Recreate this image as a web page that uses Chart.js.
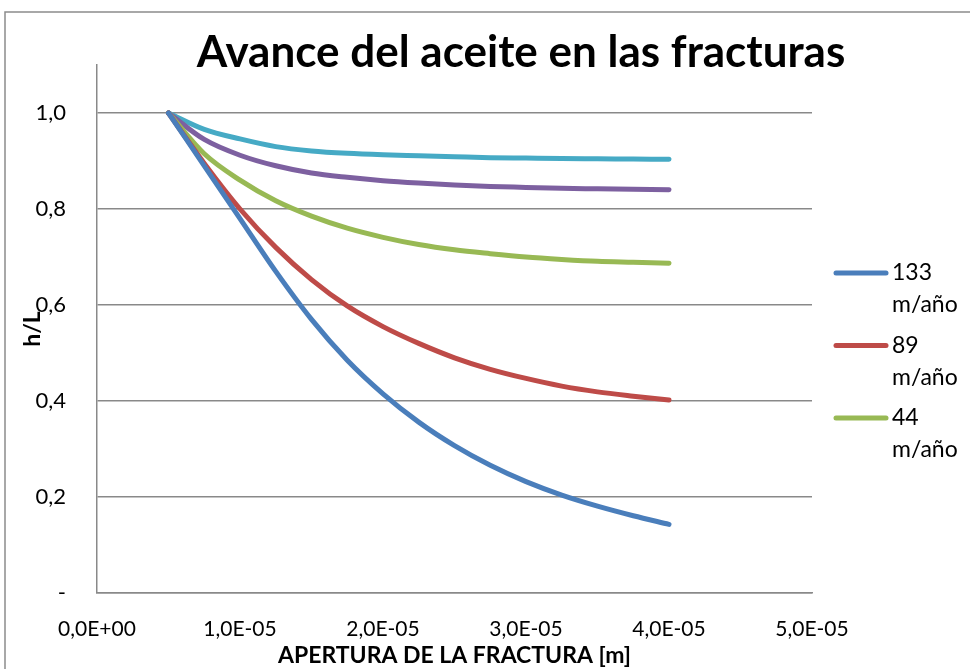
<!DOCTYPE html>
<html>
<head>
<meta charset="utf-8">
<script src="https://cdn.jsdelivr.net/npm/chart.js@4"></script>
<style>
  html, body { margin: 0; padding: 0; background: #fff; overflow: hidden; }
  #wrap { position: absolute; left: 0; top: 0; width: 1042px; height: 669px; }
</style>
</head>
<body>
<div id="wrap"><canvas id="chart" width="1042" height="669"></canvas></div>
<script>
// apertura de la fractura [m]
const apertura = [0.5e-5, 0.75e-5, 1.0e-5, 1.25e-5, 1.5e-5, 1.75e-5, 2.0e-5, 2.25e-5,
                  2.5e-5, 2.75e-5, 3.0e-5, 3.25e-5, 3.5e-5, 3.75e-5, 4.0e-5];

// h/L por velocidad
const serie133 = [1.0, 0.89, 0.78, 0.67, 0.57, 0.485, 0.415, 0.356, 0.307, 0.266, 0.232, 0.204, 0.181, 0.161, 0.143];
const serie89  = [1.0, 0.895, 0.80, 0.72, 0.653, 0.598, 0.555, 0.52, 0.49, 0.466, 0.447, 0.431, 0.419, 0.41, 0.402];
const serie44  = [1.0, 0.915, 0.86, 0.817, 0.785, 0.76, 0.741, 0.726, 0.715, 0.707, 0.70, 0.695, 0.691, 0.689, 0.687];
const serie4   = [1.0, 0.945, 0.912, 0.89, 0.875, 0.866, 0.859, 0.854, 0.85, 0.847, 0.845, 0.843, 0.842, 0.841, 0.840];
const serie5   = [1.0, 0.966, 0.946, 0.93, 0.921, 0.916, 0.913, 0.911, 0.909, 0.907, 0.906, 0.905, 0.9045, 0.904, 0.9035];

const nombres = ['133 m/año', '89 m/año', '44 m/año', '', ''];
const colores = ['#4A7EBB', '#BE4B48', '#98B954', '#7D60A0', '#46AAC5'];
const series = [serie133, serie89, serie44, serie4, serie5];

const titulo = 'Avance del aceite en las fracturas';
const FONT = 'Lato, "Liberation Sans", sans-serif';

function fmtExp(v) {
    const [m, e] = Number(v).toExponential(1).split('e');
    const n = parseInt(e, 10);
    return m.replace('.', ',') + 'E' + (n < 0 ? '-' : '+') + String(Math.abs(n)).padStart(2, '0');
}

// marco del gráfico (izquierda y arriba) y título centrado en todo el gráfico
const marco = {
    id: 'marco',
    beforeDraw(chart) {
        const ctx = chart.ctx;
        ctx.save();
        ctx.fillStyle = '#fff';
        ctx.fillRect(0, 0, chart.width, chart.height);
        ctx.strokeStyle = '#8c8c8c';
        ctx.lineWidth = 1.5;
        ctx.beginPath();
        ctx.moveTo(5, chart.height + 5);
        ctx.lineTo(5, 12);
        ctx.lineTo(chart.width + 5, 12);
        ctx.stroke();
        ctx.fillStyle = '#000';
        ctx.font = 'bold 44px ' + FONT;
        ctx.textAlign = 'center';
        ctx.textBaseline = 'middle';
        ctx.fillText(titulo, 521, 53);
        ctx.restore();
    }
};

// leyenda tipo Excel con el texto partido en dos líneas (solo 3 series visibles)
const leyenda = {
    id: 'leyenda',
    afterDraw(chart) {
        const ctx = chart.ctx;
        ctx.save();
        ctx.font = '23px ' + FONT;
        ctx.textBaseline = 'middle';
        ctx.textAlign = 'left';
        ctx.lineCap = 'round';
        for (let i = 0; i < 3; i++) {
            const ds = chart.data.datasets[i];
            const y = 273 + i * 72.5;
            ctx.strokeStyle = ds.borderColor;
            ctx.lineWidth = 5;
            ctx.beginPath();
            ctx.moveTo(836, y);
            ctx.lineTo(886, y);
            ctx.stroke();
            ctx.fillStyle = '#000';
            ds.label.split(' ').forEach((t, k) => ctx.fillText(t, 892, y + k * 32));
        }
        ctx.restore();
    }
};

new Chart(document.getElementById('chart'), {
    type: 'line',
    data: {
        datasets: series.map((s, i) => ({
            label: nombres[i],
            data: s.map((v, k) => ({ x: apertura[k], y: v })),
            borderColor: colores[i],
            backgroundColor: colores[i],
            borderWidth: 5,
            borderCapStyle: 'round',
            borderJoinStyle: 'round',
            pointRadius: 0,
            cubicInterpolationMode: 'monotone',
            fill: false
        }))
    },
    options: {
        responsive: false,
        animation: false,
        layout: { padding: { left: 0, right: 230, top: 65, bottom: 0 } },
        plugins: {
            legend: { display: false },
            tooltip: { enabled: false },
            title: { display: false }
        },
        scales: {
            x: {
                type: 'linear',
                min: 0,
                max: 5e-5,
                ticks: {
                    stepSize: 1e-5,
                    color: '#000',
                    padding: 24,
                    font: { family: FONT, size: 21 },
                    maxRotation: 0,
                    callback: v => fmtExp(v)
                },
                grid: { display: false, drawTicks: false },
                border: { display: true, color: '#898989', width: 1.5 },
                title: {
                    display: true,
                    text: 'APERTURA DE LA FRACTURA [m]',
                    color: '#000',
                    font: { family: FONT, size: 23, weight: 'bold' },
                    padding: { top: 0, bottom: 0 }
                },
                afterFit: s => { s.height = 76; }
            },
            y: {
                min: 0,
                max: 1.1,
                ticks: {
                    stepSize: 0.2,
                    color: '#000',
                    padding: 31,
                    font: { family: FONT, size: 22 },
                    callback: v => v === 0 ? '-' : v.toFixed(1).replace('.', ',')
                },
                afterBuildTicks: s => { s.ticks = s.ticks.filter(t => t.value <= 1.0001); },
                grid: { color: '#898989', lineWidth: 1.5, drawTicks: false },
                border: { display: true, color: '#898989', width: 1.5 },
                title: {
                    display: true,
                    text: 'h/L',
                    color: '#000',
                    font: { family: FONT, size: 23, weight: 'bold' },
                    padding: { top: 19, bottom: 0 }
                },
                afterFit: s => { s.width = 97; }
            }
        }
    },
    plugins: [marco, leyenda]
});
</script>
</body>
</html>
